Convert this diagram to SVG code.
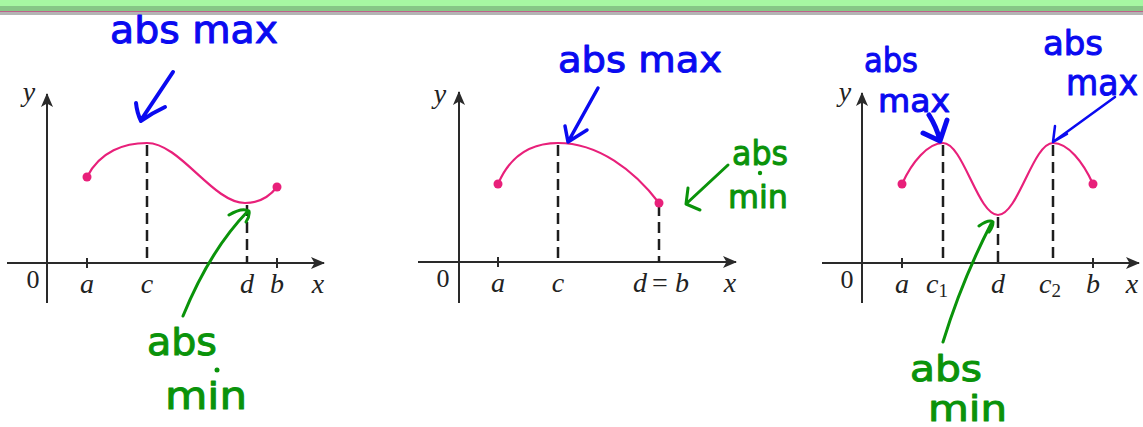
<svg xmlns="http://www.w3.org/2000/svg" width="1143" height="427" viewBox="0 0 1143 427">
<style>
.axis{stroke:#2a2a2a;stroke-width:2;fill:none}
.tick{stroke:#2a2a2a;stroke-width:2}
.dash{stroke:#1e1e1e;stroke-width:2.5;stroke-dasharray:11 6;fill:none}
.curve{stroke:#e8207a;stroke-width:2.2;fill:none}
.pt{fill:#e8207a}
.lbl{font-family:"Liberation Serif","Times New Roman",serif;font-style:italic;font-size:28px;fill:#222;text-anchor:middle}
.num{font-family:"Liberation Serif","Times New Roman",serif;font-size:26px;fill:#222;text-anchor:middle}
.sub{font-family:"Liberation Serif","Times New Roman",serif;font-style:normal;font-size:19px;fill:#222}
.hw{font-family:"DejaVu Sans",sans-serif;stroke-width:1;stroke-linejoin:round}
.blue{fill:#0a0af0;stroke:#0a0af0}
.green{fill:#0a930a;stroke:#0a930a}
.arr{fill:none;stroke-linecap:round;stroke-linejoin:round}
</style>
<defs>
<marker id="ah" viewBox="0 0 14 12" refX="13" refY="6" markerWidth="14" markerHeight="12" markerUnits="userSpaceOnUse" orient="auto">
<path d="M14,6 L0,0 L3.5,6 L0,12 Z" fill="#2a2a2a"/>
</marker>
</defs>
<rect width="1143" height="427" fill="#ffffff"/>
<g id="topbar">
<rect x="0" y="0" width="1143" height="7" fill="#a6f7a2"/>
<rect x="0" y="6" width="1143" height="5" fill="#86c686"/>
<rect x="0" y="11" width="1143" height="4" fill="#b4b4b4"/>
<rect x="0" y="11" width="1143" height="1" fill="#c0608a"/>
</g>

<g id="graph1">
<line class="axis" x1="47" y1="303" x2="47" y2="94" marker-end="url(#ah)"/>
<line class="axis" x1="7" y1="263" x2="324" y2="263" marker-end="url(#ah)"/>
<line class="tick" x1="87" y1="258" x2="87" y2="268"/>
<line class="tick" x1="277" y1="258" x2="277" y2="268"/>
<line class="dash" x1="147" y1="145" x2="147" y2="263"/>
<line class="dash" x1="247" y1="205" x2="247" y2="263"/>
<path class="curve" d="M87,177 C100,151 125,143 147,143 C180,143 213,203 245,203 C260,203 270,196 277,187"/>
<circle class="pt" cx="87" cy="177" r="4.5"/>
<circle class="pt" cx="277" cy="187" r="4.5"/>
<text class="lbl" x="29" y="101">y</text>
<text class="num" x="33" y="288">0</text>
<text class="lbl" x="87" y="293">a</text>
<text class="lbl" x="147" y="293">c</text>
<text class="lbl" x="247" y="293">d</text>
<text class="lbl" x="277" y="293">b</text>
<text class="lbl" x="318" y="293">x</text>
</g>

<g id="graph2">
<line class="axis" x1="459" y1="303" x2="459" y2="92" marker-end="url(#ah)"/>
<line class="axis" x1="418" y1="262" x2="736" y2="262" marker-end="url(#ah)"/>
<line class="tick" x1="498" y1="257" x2="498" y2="267"/>
<line class="dash" x1="558" y1="145" x2="558" y2="262"/>
<line class="dash" x1="659" y1="205" x2="659" y2="262"/>
<path class="curve" d="M498,184 C510,156 530,143 558,143 C598,143 634,170 659,203"/>
<circle class="pt" cx="498" cy="184" r="4.5"/>
<circle class="pt" cx="659" cy="203" r="4.5"/>
<text class="lbl" x="440" y="103">y</text>
<text class="num" x="443" y="287">0</text>
<text class="lbl" y="292"><tspan x="640">d</tspan><tspan x="660" font-style="normal">=</tspan><tspan x="682">b</tspan></text>
<text class="lbl" x="498" y="292">a</text>
<text class="lbl" x="558" y="292">c</text>
<text class="lbl" x="730" y="292">x</text>
</g>

<g id="graph3">
<line class="axis" x1="862" y1="303" x2="862" y2="93" marker-end="url(#ah)"/>
<line class="axis" x1="822" y1="263" x2="1139" y2="263" marker-end="url(#ah)"/>
<line class="tick" x1="902" y1="258" x2="902" y2="268"/>
<line class="tick" x1="1093" y1="258" x2="1093" y2="268"/>
<line class="dash" x1="943" y1="145" x2="943" y2="263"/>
<line class="dash" x1="998" y1="217" x2="998" y2="263"/>
<line class="dash" x1="1053" y1="145" x2="1053" y2="263"/>
<path class="curve" d="M902,184 C912,162 928,143 943,143 C963,143 978,215 998,215 C1018,215 1033,143 1053,143 C1068,143 1083,162 1093,184"/>
<circle class="pt" cx="902" cy="184" r="4.5"/>
<circle class="pt" cx="1093" cy="184" r="4.5"/>
<text class="lbl" x="845" y="101">y</text>
<text class="num" x="847" y="288">0</text>
<text class="lbl" x="902" y="293">a</text>
<text class="lbl" x="937" y="293">c<tspan class="sub" dy="4">1</tspan></text>
<text class="lbl" x="998" y="293">d</text>
<text class="lbl" x="1050" y="293">c<tspan class="sub" dy="4">2</tspan></text>
<text class="lbl" x="1093" y="293">b</text>
<text class="lbl" x="1132" y="293">x</text>
</g>

<g id="notes">
<text class="hw blue" x="110" y="43" font-size="38" textLength="168" lengthAdjust="spacingAndGlyphs">abs max</text>
<text class="hw blue" x="558" y="72" font-size="36" textLength="164" lengthAdjust="spacingAndGlyphs">abs max</text>
<text class="hw blue" x="864" y="72" font-size="34" textLength="54" lengthAdjust="spacingAndGlyphs">abs</text>
<text class="hw blue" x="878" y="112" font-size="32" textLength="72" lengthAdjust="spacingAndGlyphs">max</text>
<text class="hw blue" x="1043" y="55" font-size="34" textLength="60" lengthAdjust="spacingAndGlyphs">abs</text>
<text class="hw blue" x="1066" y="95" font-size="36" textLength="72" lengthAdjust="spacingAndGlyphs">max</text>
<text class="hw green" x="147" y="355" font-size="38" textLength="70" lengthAdjust="spacingAndGlyphs">abs</text>
<text class="hw green" x="165" y="409" font-size="38" textLength="82" lengthAdjust="spacingAndGlyphs">min</text>
<circle cx="217" cy="370" r="2.5" fill="#0a930a"/>
<text class="hw green" x="732" y="165" font-size="34" textLength="56" lengthAdjust="spacingAndGlyphs">abs</text>
<text class="hw green" x="728" y="208" font-size="32" textLength="60" lengthAdjust="spacingAndGlyphs">min</text>
<circle cx="760" cy="173" r="2.2" fill="#0a930a"/>
<text class="hw green" x="910" y="381" font-size="36" textLength="72" lengthAdjust="spacingAndGlyphs">abs</text>
<text class="hw green" x="928" y="421" font-size="36" textLength="79" lengthAdjust="spacingAndGlyphs">min</text>
<circle cx="974" cy="372" r="2.2" fill="#0a930a"/>
</g>

<g id="connectors">
<path class="arr" stroke="#0a0af0" stroke-width="4" d="M173,72 L141,120 M136,103 Q137,113 141,121 Q152,113 165,107"/>
<path class="arr" stroke="#0a0af0" stroke-width="3.5" d="M598,88 L568,142 M565,126 L568,142 L587,130"/>
<path class="arr" stroke="#0a0af0" stroke-width="5" d="M929,115 Q936,126 940,140 M923,133 L940,141 L947,120"/>
<path class="arr" stroke="#0a0af0" stroke-width="2.5" d="M1115,97 L1053,142 M1055,126 L1053,142 L1067,134"/>
<path class="arr" stroke="#0a930a" stroke-width="3" d="M183,316 Q210,250 248,211 M229,215 Q242,207 249,211 Q250,216 246,222"/>
<path class="arr" stroke="#0a930a" stroke-width="3" d="M728,165 L686,204 M688,188 L686,204 L700,210"/>
<path class="arr" stroke="#0a930a" stroke-width="3" d="M943,342 Q962,280 992,222 M979,226 Q989,219 993,222 Q993,227 989,232"/>
</g>
</svg>
